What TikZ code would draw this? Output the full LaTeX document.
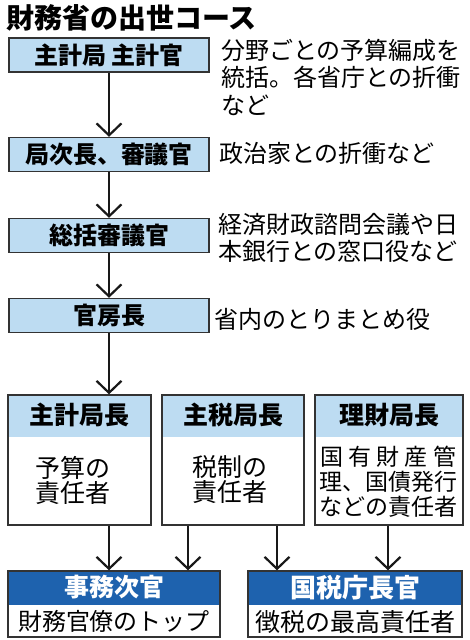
\documentclass[tikz,border=0pt]{standalone}
\usepackage{fontspec}
\setmainfont{Noto Sans CJK JP}
\usetikzlibrary{arrows.meta}
\definecolor{lblue}{HTML}{BDDCF2}
\definecolor{dblue}{HTML}{1E62AE}
\definecolor{edge}{HTML}{333333}
\begin{document}
\begin{tikzpicture}[x=1pt,y=-1pt,
  stepbox/.style={draw=edge,line width=1.3pt,fill=lblue,minimum width=200pt,minimum height=34pt,inner sep=0pt,font=\fontsize{24}{27}\selectfont\bfseries},
  desc/.style={anchor=west,align=left,inner sep=0pt,font=\fontsize{24}{27.5}\selectfont},
  arr/.style={line width=2pt,draw=black!90,-{Straight Barb[length=12pt,width=25pt,line width=2.2pt]}},
  rowframe/.style={draw=edge,line width=1.3pt,minimum height=130pt,inner sep=0pt,
    path picture={\fill[lblue] (path picture bounding box.north west) rectangle ([yshift=-42pt]path picture bounding box.north east);}},
  botframe/.style={draw=edge,line width=1.3pt,minimum height=66pt,inner sep=0pt,
    path picture={\fill[dblue] (path picture bounding box.north west) rectangle ([yshift=-34pt]path picture bounding box.north east);}},
  headtxt/.style={inner sep=0pt,font=\fontsize{25}{28}\selectfont\bfseries},
  bodytxt/.style={inner sep=0pt,align=center,font=\fontsize{25}{25}\selectfont},
]
\useasboundingbox[fill=white] (0,0) rectangle (469,640);

\node[anchor=west,inner sep=0pt,font=\fontsize{28}{30}\selectfont\bfseries] (title) at (6,18) {財務省の出世コース};

\node[stepbox] (b1) at (109,55) {主計局 主計官};
\node[stepbox] (b2) at (109,154.5) {局次長、審議官};
\node[stepbox] (b3) at (109,235.5) {総括審議官};
\node[stepbox] (b4) at (109,315.5) {官房長};

\node[desc] (d1) at (221,77) {分野ごとの予算編成を\\統括。各省庁との折衝\\など};
\node[desc] (d2) at (219,153) {政治家との折衝など};
\node[desc] (d3) at (218,238) {経済財政諮問会議や日\\本銀行との窓口役など};
\node[desc] (d4) at (214,319) {省内のとりまとめ役};

\node[rowframe,minimum width=143pt] (rA) at (79.5,460) {};
\node[rowframe,minimum width=142pt] (rB) at (233,460) {};
\node[rowframe,minimum width=148pt] (rC) at (389,460) {};
\node[headtxt] (hA) at ([yshift=-21pt]rA.north) {主計局長};
\node[headtxt] (hB) at ([yshift=-21pt]rB.north) {主税局長};
\node[headtxt] (hC) at ([yshift=-21pt]rC.north) {理財局長};
\node[bodytxt] (tA) at (73,480) {予算の\\責任者};
\node[bodytxt] (tB) at (230,480) {税制の\\責任者};
\node[inner sep=0pt,align=center,font=\fontsize{23}{25}\selectfont] (tC) at (388,482)
  {\makebox[136pt][s]{国\hfill 有\hfill 財\hfill 産\hfill 管}\\理、国債発行\\などの責任者};

\node[botframe,minimum width=212pt] (jimu) at (114,604) {};
\node[botframe,minimum width=214pt] (kokuzei) at (355,604) {};
\node[headtxt,text=white] (hJ) at ([yshift=-17pt]jimu.north) {事務次官};
\node[headtxt,text=white,font=\fontsize{26}{28}\selectfont\bfseries] (hK) at ([yshift=-17pt]kokuzei.north) {国税庁長官};
\node[inner sep=0pt,font=\fontsize{24}{26}\selectfont] (tJ) at ([yshift=16pt]jimu.south) {財務官僚のトップ};
\node[inner sep=0pt,font=\fontsize{25}{26}\selectfont] (tK) at ([yshift=16pt]kokuzei.south) {徴税の最高責任者};

\coordinate (x1) at (109,0);
\coordinate (x2) at (188,0);
\coordinate (x3) at (277,0);
\coordinate (x4) at (388,0);

\draw[arr] (b1) -- (b2);
\draw[arr] (b2) -- (b3);
\draw[arr] (b3) -- (b4);
\draw[arr] (b4.south) -- (b4.south |- rA.north);
\draw[arr] (rA.south -| x1) -- (jimu.north -| x1);
\draw[arr] (rB.south -| x2) -- (jimu.north -| x2);
\draw[arr] (rB.south -| x3) -- (kokuzei.north -| x3);
\draw[arr] (rC.south -| x4) -- (kokuzei.north -| x4);
\end{tikzpicture}
\end{document}
